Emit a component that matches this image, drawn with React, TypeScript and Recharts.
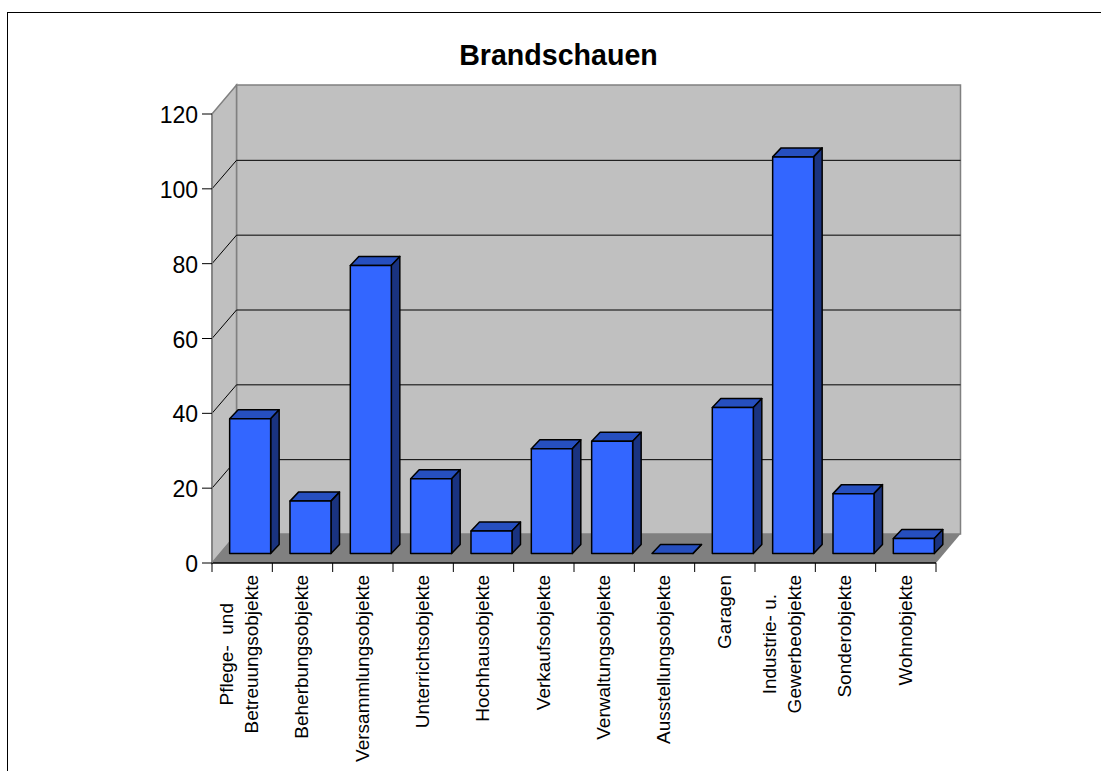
import React from "react";
import { BarChart, Bar, XAxis, YAxis, CartesianGrid } from "recharts";

const categories = [
  "Pflege-  und\nBetreuungsobjekte",
  "Beherbungsobjekte",
  "Versammlungsobjekte",
  "Unterrichtsobjekte",
  "Hochhausobjekte",
  "Verkaufsobjekte",
  "Verwaltungsobjekte",
  "Ausstellungsobjekte",
  "Garagen",
  "Industrie- u.\nGewerbeobjekte",
  "Sonderobjekte",
  "Wohnobjekte",
];
const values = [36, 14, 77, 20, 6, 28, 30, 0, 39, 106, 16, 4];
const yTicks = [0, 20, 40, 60, 80, 100, 120];
const title = "Brandschauen";

const data = categories.map((name, i) => ({ name, value: values[i] }));

const W = 1101;
const H = 771;
const PLOT = { left: 212, right: 936, top: 114, bottom: 563 };
const WALL_DX = 24.5;
const WALL_DY = 29;
const GRID_DY = 28.5;
const BAR_DX = 8;
const BAR_DY = 9.5;
const DEPTH_DX = 8.5;
const DEPTH_DY = 9;
const FONT = "'Liberation Sans', Arial, sans-serif";
const GREY = "#808080";
const LABEL_SIZE = 19;

const pts = (a: number[][]) => a.map((p) => p.join(",")).join(" ");

const measureCtx = document.createElement("canvas").getContext("2d");
function textWidth(s: string) {
  if (!measureCtx) return s.length * LABEL_SIZE * 0.5;
  measureCtx.font = `${LABEL_SIZE}px 'Liberation Sans'`;
  return measureCtx.measureText(s).width;
}

function BoxShape(props: any) {
  const { x, y, width, height } = props;
  const fx = x + BAR_DX;
  const fy = y - BAR_DY;
  const fr = fx + width;
  const fb = fy + height;
  const stroke = { stroke: "#000", strokeWidth: 1.5, strokeLinejoin: "round" as const };
  return (
    <g>
      <polygon
        points={pts([[fx, fy], [fx + DEPTH_DX, fy - DEPTH_DY], [fr + DEPTH_DX, fy - DEPTH_DY], [fr, fy]])}
        fill="#264FBF"
        {...stroke}
      />
      <polygon
        points={pts([[fr, fy], [fr + DEPTH_DX, fy - DEPTH_DY], [fr + DEPTH_DX, fb - DEPTH_DY], [fr, fb]])}
        fill="#1A3380"
        {...stroke}
      />
      <rect x={fx} y={fy} width={width} height={height} fill="#3366FF" {...stroke} />
    </g>
  );
}

function GridLine(props: any) {
  const { x1, x2, y1, y2, index } = props;
  const { left, right, top, bottom } = PLOT;
  const backL = left + WALL_DX;
  const backR = right + WALL_DX;
  const backT = top - WALL_DY;
  const backB = bottom - WALL_DY;
  const isEdge = Math.abs(y1 - bottom) < 0.5 || Math.abs(y1 - top) < 0.5;
  return (
    <g key={index}>
      {Math.abs(y1 - bottom) < 0.5 && (
        <g>
          <rect x={backL} y={backT} width={backR - backL} height={backB - backT} fill="#C0C0C0" stroke={GREY} strokeWidth={1.5} />
          <polygon points={pts([[left, top], [backL, backT], [backL, backB], [left, bottom]])} fill="#C0C0C0" stroke={GREY} strokeWidth={1.5} />
          <polygon points={pts([[left, bottom], [backL, backB], [backR, backB], [right, bottom]])} fill={GREY} />
        </g>
      )}
      {!isEdge && (
        <g>
          <line x1={x1} y1={y1} x2={x1 + WALL_DX} y2={y2 - GRID_DY} stroke="#000" strokeWidth={1} />
          <line x1={x1 + WALL_DX} y1={y1 - GRID_DY} x2={x2 + WALL_DX} y2={y2 - GRID_DY} stroke="#000" strokeWidth={1} />
        </g>
      )}
    </g>
  );
}

function XTick(props: any) {
  const { x, payload, index } = props;
  const band = (PLOT.right - PLOT.left) / categories.length;
  const lines: string[] = String(payload.value).split("\n");
  const lineH = 25;
  const baseX = x - 2.5 * (lines.length - 1) + 6;
  const top = PLOT.bottom + 12;
  const longest = Math.max(...lines.map(textWidth));
  const centre = top + longest / 2;
  return (
    <g>
      <line x1={x - band / 2} y1={PLOT.bottom} x2={x - band / 2} y2={PLOT.bottom + 9} stroke="#000" />
      {index === categories.length - 1 && (
        <line x1={x + band / 2} y1={PLOT.bottom} x2={x + band / 2} y2={PLOT.bottom + 9} stroke="#000" />
      )}
      {lines.map((ln, i) => {
        const tx = baseX + (i - (lines.length - 1) / 2) * lineH;
        return (
          <text
            key={i}
            x={tx}
            y={centre}
            transform={`rotate(-90 ${tx} ${centre})`}
            textAnchor="middle"
            fontFamily={FONT}
            fontSize={LABEL_SIZE}
            fill="#000"
            style={{ whiteSpace: "pre" }}
          >
            {ln}
          </text>
        );
      })}
    </g>
  );
}

function YTick(props: any) {
  const { x, y, payload } = props;
  return (
    <text x={x} y={y + 9} textAnchor="end" fontFamily={FONT} fontSize={23} fill="#000">
      {payload.value}
    </text>
  );
}

export default function App() {
  return (
    <div style={{ position: "fixed", left: 0, top: 0, width: W, height: H, overflow: "hidden", background: "#fff" }}>
      <div
        style={{
          position: "absolute",
          left: 7,
          top: 12,
          right: 0,
          bottom: 0,
          borderLeft: "1.5px solid #000",
          borderTop: "1.5px solid #000",
          boxSizing: "border-box",
        }}
      />
      <div
        style={{
          position: "absolute",
          left: 0,
          width: 1117,
          top: 39,
          textAlign: "center",
          fontFamily: FONT,
          fontWeight: "bold",
          fontSize: 28.6,
          lineHeight: "33px",
          color: "#000",
        }}
      >
        {title}
      </div>
      <div style={{ position: "absolute", left: 0, top: 0 }}>
        <BarChart
          width={W}
          height={H}
          data={data}
          barCategoryGap="16%"
          margin={{ top: PLOT.top, right: W - PLOT.right, bottom: H - PLOT.bottom - 190, left: PLOT.left - 70 }}
        >
          <CartesianGrid horizontal={GridLine as any} vertical={false} syncWithTicks />
          <XAxis dataKey="name" height={190} interval={0} tick={XTick as any} tickLine={false} axisLine={{ stroke: "#000", strokeWidth: 1.5 }} />
          <YAxis
            width={70}
            domain={[0, 120]}
            ticks={yTicks}
            interval={0}
            tickSize={10}
            tickMargin={4}
            tickLine={{ stroke: "#000" }}
            axisLine={{ stroke: GREY, strokeWidth: 1.5 }}
            tick={YTick as any}
          />
          <Bar dataKey="value" shape={BoxShape as any} isAnimationActive={false} />
        </BarChart>
      </div>
    </div>
  );
}
